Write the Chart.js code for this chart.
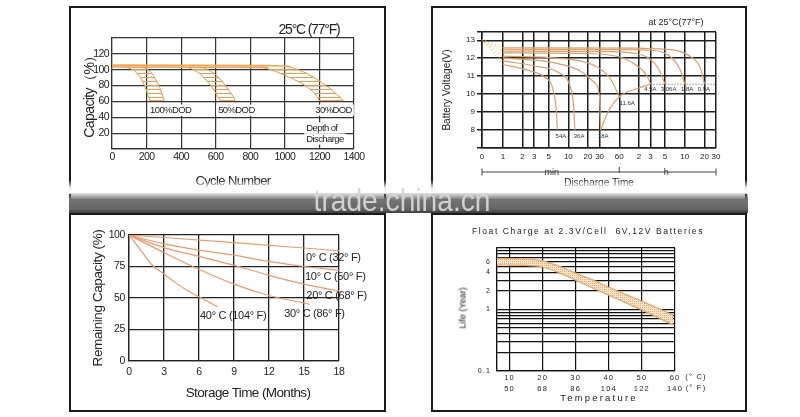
<!DOCTYPE html>
<html>
<head>
<meta charset="utf-8">
<title>Battery characteristics</title>
<script src="https://cdn.jsdelivr.net/npm/chart.js@4.4.1/dist/chart.umd.min.js"></script>
<style>
  html, body { margin: 0; padding: 0; background: #fff; }
  body { position: relative; width: 800px; height: 417px; overflow: hidden;
         font-family: "Liberation Sans", Arial, sans-serif; color: #222; }
  .panel { position: absolute; box-sizing: border-box; border: 2px solid #1b1b1b; }
  canvas { position: absolute; }
  .label { position: absolute; white-space: nowrap; transform: translate(-50%, -50%); line-height: 1; }
  #fade { position: absolute; left: 60px; top: 180px; width: 700px; height: 14px;
          background: linear-gradient(rgba(255,255,255,0), rgba(255,255,255,0.9) 55%, #fff); }
  #band { position: absolute; left: 69px; top: 193px; width: 679px; height: 20px;
          background: linear-gradient(rgba(120,120,120,0.2), #737373 35%, #666 80%, #3d3d3d); }
  #mark { position: absolute; left: 402px; top: 200px; transform: translate(-50%, -50%) scaleX(0.88);
          font-size: 32px; color: rgba(214,214,214,0.95); white-space: nowrap; line-height: 1; }
</style>
</head>
<body>
<div class="panel" style="left:69px;top:6px;width:317px;height:195px"></div>
<div class="panel" style="left:431px;top:6px;width:316px;height:195px"></div>
<div class="panel" style="left:69px;top:213px;width:317px;height:199px"></div>
<div class="panel" style="left:431px;top:213px;width:316px;height:199px"></div>

<canvas id="cycleChart" style="left:72px;top:9px" width="310" height="180"></canvas>
<canvas id="dischargeChart" style="left:434px;top:9px" width="310" height="180"></canvas>
<canvas id="storageChart" style="left:72px;top:215px" width="310" height="194"></canvas>
<canvas id="floatChart" style="left:434px;top:215px" width="310" height="194"></canvas>

<div class="label" style="left:309px;top:29px;font-size:14px;letter-spacing:-1.2px">25°C (77°F)</div>
<div class="label" style="left:676px;top:22px;font-size:9px">at 25°C(77°F)</div>
<div class="label" style="left:248px;top:393px;font-size:13.5px;letter-spacing:-0.6px">Storage Time (Months)</div>
<div class="label" style="left:588px;top:231px;font-size:8.5px;letter-spacing:1.6px">Float Charge at 2.3V/Cell&nbsp; 6V,12V Batteries</div>
<div class="label" style="left:463px;top:308px;font-size:9px;transform:translate(-50%,-50%) rotate(-90deg)">Life (Year)</div>
<div class="label" style="left:599px;top:398px;font-size:9.5px;letter-spacing:2.2px">Temperature</div>
<div class="label" style="left:696px;top:377px;font-size:7.5px;letter-spacing:1.2px">(° C)</div>
<div class="label" style="left:696px;top:388px;font-size:7.5px;letter-spacing:1.2px">(° F)</div>

<div id="fade"></div>
<div id="band"></div>
<div id="mark">trade.china.cn</div>

<script>
// ---- top left: cycle life ----
const cycleTicks = [0, 200, 400, 600, 800, 1000, 1200, 1400];
const capTicks = [0, 20, 40, 60, 80, 100, 120, 140];
const capLabels = ['', '20', '40', '60', '80', '100', '120', ''];

const bandTopCycles = [0, 500, 900, 1000, 1030];
const bandTopCap = [105.8, 105.7, 105.2, 104.6, 104];
const bandLowCycles = [0, 500, 850, 900];
const bandLowCap = [103.4, 103.2, 102.8, 102.5];

const dod100LeftCycles = [85, 130, 160, 185, 205, 218];
const dod100LeftCap = [103.3, 99, 92, 82, 70, 61];
const dod100RightCycles = [170, 200, 230, 255, 275, 292, 301];
const dod100RightCap = [103.3, 101.5, 96, 87, 78, 68, 61];

const dod50LeftCycles = [440, 471, 510, 548, 575, 596, 612, 625];
const dod50LeftCap = [103, 100, 95, 86, 79, 72, 66, 61];
const dod50RightCycles = [520, 558, 600, 635, 660, 683, 700, 712];
const dod50RightCap = [103, 100, 94, 86, 79, 72, 67, 61];

const dod30LeftCycles = [880, 934, 1000, 1050, 1089, 1130, 1166, 1190, 1200];
const dod30LeftCap = [102.5, 99, 93, 88, 84, 78, 72, 65, 61];
const dod30RightCycles = [1020, 1080, 1130, 1185, 1220, 1262, 1300, 1339];
const dod30RightCap = [104, 100, 95, 88, 83, 76, 69, 61];

const dodLabels = ['100%DOD', '50%DOD', '30%DOD', 'Depth of', 'Discharge'];
const dodLabelCycles = [220, 614, 1176, 1124, 1124];
const dodLabelCap = [49, 49, 49, 26.5, 12.6];

// ---- top right: discharge curves (time in minutes) ----
const timeTicks = [0.48, 1, 2, 3, 5, 10, 20, 30, 60, 120, 180, 300, 600, 1200, 1800];
const timeLabels = ['0', '1', '2', '3', '5', '10', '20', '30', '60', '2', '3', '5', '10', '20', '30'];
const voltTicks = [7, 8, 9, 10, 11, 12, 13, 13.46];
const voltLabels = ['', '8', '9', '10', '11', '12', '13', ''];

const tA09 = [1, 100, 300, 460, 740, 1040, 1200];
const vA09 = [12.58, 12.56, 12.5, 12.42, 12.08, 11.45, 10.55];
const tA18 = [1, 60, 160, 290, 410, 520, 600];
const vA18 = [12.5, 12.48, 12.45, 12.3, 11.9, 11.3, 10.55];
const tA306 = [1, 40, 100, 170, 240, 300];
const vA306 = [12.4, 12.37, 12.28, 12.0, 11.4, 10.55];
const tA45 = [1, 25, 70, 120, 160, 180];
const vA45 = [12.3, 12.25, 12.0, 11.5, 11.0, 10.55];
const tA116 = [1, 10, 28, 45, 60];
const vA116 = [12.12, 11.95, 11.5, 10.8, 9.85];
const tA180 = [1, 6, 15, 25, 30, 31];
const vA180 = [12.02, 11.75, 11.3, 10.65, 9.8, 8.0];
const tA360 = [1, 3.3, 7.5, 10.5, 12, 12.6];
const vA360 = [11.85, 11.55, 11.15, 10.5, 9.4, 8.0];
const tA540 = [1, 2.3, 4.3, 5.8, 6.5, 6.8];
const vA540 = [11.65, 11.35, 10.95, 10.3, 9.2, 8.0];

const startTime = [0.48, 1];
const startVolt = 13.05;

const endLineT = [31, 43, 62, 110, 180];
const endLineV = [8.0, 9.2, 9.9, 10.3, 10.55];
const cutLowT = [6.8, 31];
const cutLowV = [8.0, 8.0];
const cutHighT = [180, 1800];
const cutHighV = [10.55, 10.55];

const ampLabels = ['54A', '36A', '18A', '11.6A', '4.5A', '3.06A', '1.8A', '0.9A'];
const ampLabelT = [7.7, 14.6, 34, 79, 179, 340, 652, 1172];
const ampLabelV = [7.64, 7.64, 7.64, 9.46, 10.24, 10.24, 10.24, 10.24];

const spanLabels = ['min', 'h'];
const spanAt = [5.6, 314];
const spanBreak = 60;

// ---- bottom left: self discharge ----
const monthTicks = [0, 3, 6, 9, 12, 15, 18];
const remainTicks = [0, 25, 50, 75, 100];

const m0 = [0, 9, 18];
const r0 = [100, 94, 87.5];
const m10 = [0, 3, 6, 9, 12, 15, 18];
const r10 = [100, 93, 88, 84, 79, 75, 72];
const m20 = [0, 3, 6, 9, 12, 15, 18];
const r20 = [100, 90, 83, 76, 68, 61, 55.5];
const m30 = [0, 3, 5, 9, 12, 15.5];
const r30 = [100, 86, 77, 61, 52, 45];
const m40 = [0, 1, 2, 3, 4, 5, 6, 7.6];
const r40 = [100, 88, 76, 69, 62, 56, 51, 43];

const tempLabels = ['0° C (32° F)', '10° C (50° F)', '20° C (68° F)', '30° C (86° F)', '40° C (104° F)'];
const tempLabelMonth = [15.17, 15.09, 15.2, 13.3, 6.09];
const tempLabelCap = [81.5, 66.9, 51.8, 37.0, 36.0];

// ---- bottom right: float life ----
const degTicks = [6.2, 10, 20, 30, 40, 50, 60];
const degLabels = [['', ''], ['10', '50'], ['20', '68'], ['30', '86'], ['40', '104'], ['50', '122'], ['60', '140']];
const lifeTicks = [0.1, 0.2, 0.3, 0.4, 0.5, 0.6, 0.7, 0.8, 0.9, 1, 2, 3, 4, 5, 6, 7, 8, 9, 10];
const lifeLabels = ['0.1', '', '', '', '', '', '', '', '', '1', '2', '', '4', '', '6', '', '', '', ''];

const lifeTemp = [6.2, 13, 19.3, 25.3, 30, 35.3, 40, 45.4, 50.4, 59.5];
const lifeUpper = [6.8, 6.7, 6.3, 5.0, 3.9, 3.0, 2.3, 1.73, 1.34, 0.81];
const lifeLower = [5.3, 5.25, 5.0, 3.9, 3.0, 2.22, 1.7, 1.26, 0.96, 0.56];

// ---------------------------------------------------------------
Chart.defaults.font.family = '"Liberation Sans", Arial, sans-serif';
Chart.defaults.color = '#222';

const pts = (xs, ys) => xs.map((x, i) => ({ x, y: ys[i] }));

function makePattern(w, h, paint) {
  const c = document.createElement('canvas');
  c.width = w;
  c.height = h;
  const g = c.getContext('2d');
  paint(g);
  return g.createPattern(c, 'repeat');
}

const hatchFill = makePattern(4, 4, g => {
  g.fillStyle = '#ec9a48';
  g.fillRect(0, 0, 4, 1);
});
const dotFill = makePattern(2, 2, g => {
  g.fillStyle = '#fbe4cc';
  g.fillRect(0, 0, 2, 2);
  g.fillStyle = '#e3ae78';
  g.fillRect(0, 0, 1, 1);
});

// closed outline of a DOD region, left edge going down, right edge coming back up
function dodRegion(lx, ly, rx, ry) {
  return {
    data: [...pts(lx, ly), ...pts(rx, ry).reverse()],
    indexAxis: 'y',
    fill: 'shape',
    backgroundColor: hatchFill,
    borderColor: '#ea9848',
    borderWidth: 1
  };
}

function spacing(value) {
  return { id: 'spacing', beforeDraw(chart) { chart.ctx.letterSpacing = value; } };
}

function notes(texts, xs, ys, font, opts = {}) {
  return {
    id: 'notes',
    afterDatasetsDraw(chart) {
      const { ctx, scales } = chart;
      ctx.save();
      ctx.font = font;
      ctx.letterSpacing = opts.spacing || '0px';
      ctx.textAlign = opts.align || 'left';
      ctx.textBaseline = 'middle';
      texts.forEach((t, i) => {
        const px = scales.x.getPixelForValue(xs[i]);
        const py = scales.y.getPixelForValue(ys[i]);
        if (opts.background) {
          const w = ctx.measureText(t).width;
          const left = opts.align === 'center' ? px - w / 2 : px;
          ctx.fillStyle = opts.background;
          ctx.fillRect(left - 2, py - 5.6, w + 4, 11.2);
        }
        ctx.fillStyle = opts.color || '#222';
        ctx.fillText(t, px, py);
      });
      ctx.restore();
    }
  };
}

const timeSpan = {
  id: 'timeSpan',
  afterDraw(chart) {
    const { ctx, scales: { x }, chartArea } = chart;
    const y = chartArea.bottom + 24;
    const x0 = x.getPixelForValue(x.min);
    const x1 = x.getPixelForValue(x.max);
    const xm = x.getPixelForValue(spanBreak);
    ctx.save();
    ctx.strokeStyle = '#444';
    ctx.lineWidth = 1;
    ctx.beginPath();
    ctx.moveTo(x0, y); ctx.lineTo(x1, y);
    ctx.moveTo(x0, y - 3.5); ctx.lineTo(x0, y + 3.5);
    ctx.moveTo(x1, y - 3.5); ctx.lineTo(x1, y + 3.5);
    ctx.moveTo(xm, y - 5); ctx.lineTo(xm, y + 1);
    ctx.stroke();
    ctx.fillStyle = '#333';
    ctx.font = '9px "Liberation Sans", Arial';
    ctx.textAlign = 'center';
    ctx.textBaseline = 'middle';
    spanLabels.forEach((t, i) => ctx.fillText(t, x.getPixelForValue(spanAt[i]), y + 1));
    ctx.restore();
  }
};

const base = {
  responsive: false,
  animation: false,
  events: [],
  plugins: { legend: { display: false }, tooltip: { enabled: false } },
  elements: { point: { radius: 0 }, line: { borderWidth: 1.2, fill: false } }
};

const setTicks = values => s => { s.ticks = values.map(v => ({ value: v })); };

// top left
new Chart(document.getElementById('cycleChart'), {
  type: 'line',
  data: {
    datasets: [
      dodRegion(dod100LeftCycles, dod100LeftCap, dod100RightCycles, dod100RightCap),
      dodRegion(dod50LeftCycles, dod50LeftCap, dod50RightCycles, dod50RightCap),
      dodRegion(dod30LeftCycles, dod30LeftCap, dod30RightCycles, dod30RightCap),
      { data: pts(bandTopCycles, bandTopCap), borderColor: '#f0a659', borderWidth: 1.6 },
      { data: pts(bandLowCycles, bandLowCap), borderColor: '#f0a659', borderWidth: 1.6,
        fill: '-1', backgroundColor: 'rgba(246,190,130,0.55)' }
    ]
  },
  options: {
    ...base,
    layout: { padding: { top: 29, right: 28, left: 0, bottom: 0 } },
    scales: {
      x: {
        type: 'linear', min: 0, max: 1400,
        afterFit: s => { s.height = 40; },
        afterBuildTicks: setTicks(cycleTicks),
        grid: { color: '#333', lineWidth: 1.2, drawTicks: false },
        border: { color: '#333', width: 1.2 },
        ticks: { font: { size: 10.5 }, padding: 2, maxRotation: 0, autoSkip: false, callback: v => String(v) },
        title: { display: true, text: 'Cycle Number', font: { size: 13 }, padding: 0 }
      },
      y: {
        type: 'linear', min: 0, max: 140,
        afterFit: s => { s.width = 40; },
        afterBuildTicks: setTicks(capTicks),
        grid: { color: '#333', lineWidth: 1.2, drawTicks: false },
        border: { color: '#333', width: 1.2 },
        ticks: { font: { size: 10.5 }, padding: 3, autoSkip: false, callback: (v, i) => capLabels[i] },
        title: { display: true, text: 'Capacity（%）', font: { size: 14 }, padding: { top: 9.6, bottom: 0 } }
      }
    }
  },
  plugins: [spacing('-0.6px'),
    notes(dodLabels, dodLabelCycles, dodLabelCap, '9.5px "Liberation Sans", Arial', { spacing: '-0.6px', background: '#fff' })]
});

// top right
const curve = (t, v) => ({ data: pts(t, v), borderColor: '#dca06c', borderWidth: 1.2, cubicInterpolationMode: 'monotone' });
const startDots = v => ({ data: pts(startTime, [startVolt, v]), borderColor: '#e6b450', borderWidth: 1, borderDash: [1, 2.5] });
const cutLine = (t, v) => ({ data: pts(t, v), borderColor: '#555', borderWidth: 1, borderDash: [1, 2] });

new Chart(document.getElementById('dischargeChart'), {
  type: 'line',
  data: {
    datasets: [
      startDots(vA09[0]), startDots(vA306[0]), startDots(vA116[0]),
      startDots(vA360[0]), startDots(vA540[0]),
      cutLine(cutLowT, cutLowV), cutLine(cutHighT, cutHighV),
      curve(tA09, vA09), curve(tA18, vA18), curve(tA306, vA306), curve(tA45, vA45),
      curve(tA116, vA116), curve(tA180, vA180), curve(tA360, vA360), curve(tA540, vA540),
      curve(endLineT, endLineV)
    ]
  },
  options: {
    ...base,
    layout: { padding: { top: 23, right: 28, left: 0, bottom: 0 } },
    scales: {
      x: {
        type: 'logarithmic', min: 0.48, max: 1800,
        afterFit: s => { s.height = 41; },
        afterBuildTicks: setTicks(timeTicks),
        grid: { color: '#1e1e1e', lineWidth: 1.5, drawTicks: false },
        border: { color: '#1e1e1e', width: 1.5 },
        ticks: { font: { size: 8 }, padding: 4, maxRotation: 0, autoSkip: false, callback: (v, i) => timeLabels[i] },
        title: { display: true, text: 'Discharge Time', font: { size: 10 }, padding: 0 }
      },
      y: {
        type: 'linear', min: 7, max: 13.46,
        afterFit: s => { s.width = 48; },
        afterBuildTicks: setTicks(voltTicks),
        grid: { color: '#1e1e1e', lineWidth: 1.5, drawTicks: true, tickLength: 5 },
        border: { color: '#1e1e1e', width: 1.5 },
        ticks: { font: { size: 8 }, padding: 2, autoSkip: false, callback: (v, i) => voltLabels[i] },
        title: { display: true, text: 'Battery Voltage(V)', font: { size: 10 }, padding: { top: 7, bottom: 0 } }
      }
    }
  },
  plugins: [timeSpan,
    notes(ampLabels, ampLabelT, ampLabelV, '6px "Liberation Sans", Arial', { align: 'center', color: '#333' })]
});

// bottom left
const fade = (m, r) => ({ data: pts(m, r), borderColor: '#ec9a6e', borderWidth: 1.2, cubicInterpolationMode: 'monotone' });

new Chart(document.getElementById('storageChart'), {
  type: 'line',
  data: {
    datasets: [fade(m0, r0), fade(m10, r10), fade(m20, r20), fade(m30, r30), fade(m40, r40)]
  },
  options: {
    ...base,
    layout: { padding: { top: 20, right: 43, left: 0, bottom: 0 } },
    scales: {
      x: {
        type: 'linear', min: 0, max: 18,
        afterFit: s => { s.height = 48; },
        afterBuildTicks: setTicks(monthTicks),
        grid: { color: '#222', lineWidth: 1.3, drawTicks: false },
        border: { color: '#222', width: 1.3 },
        ticks: { font: { size: 10.5 }, padding: 5, maxRotation: 0, autoSkip: false }
      },
      y: {
        type: 'linear', min: 0, max: 100,
        afterFit: s => { s.width = 57; },
        afterBuildTicks: setTicks(remainTicks),
        grid: { color: '#222', lineWidth: 1.3, drawTicks: false },
        border: { color: '#222', width: 1.3 },
        ticks: { font: { size: 10.5 }, padding: 4, autoSkip: false },
        title: { display: true, text: 'Remaining Capacity (%)', font: { size: 13.5 }, padding: { top: 17.9, bottom: 0 } }
      }
    }
  },
  plugins: [spacing('-0.4px'),
    notes(tempLabels, tempLabelMonth, tempLabelCap, '11px "Liberation Sans", Arial', { spacing: '-0.3px' })]
});

// bottom right
new Chart(document.getElementById('floatChart'), {
  type: 'line',
  data: {
    datasets: [
      { data: pts(lifeTemp, lifeUpper), borderColor: '#e6a464', borderWidth: 1.2, cubicInterpolationMode: 'monotone' },
      { data: pts(lifeTemp, lifeLower), borderColor: '#e6a464', borderWidth: 1.2, cubicInterpolationMode: 'monotone',
        fill: '-1', backgroundColor: dotFill }
    ]
  },
  options: {
    ...base,
    layout: { padding: { top: 33, right: 69, left: 0, bottom: 0 } },
    scales: {
      x: {
        type: 'linear', min: 6.2, max: 60,
        afterFit: s => { s.height = 38; },
        afterBuildTicks: setTicks(degTicks),
        grid: { color: '#111', lineWidth: 1.2, drawTicks: false },
        border: { color: '#111', width: 1.2 },
        ticks: { font: { size: 7.5, lineHeight: 1.4 }, padding: 2, maxRotation: 0, autoSkip: false, callback: (v, i) => degLabels[i] }
      },
      y: {
        type: 'logarithmic', min: 0.1, max: 10,
        afterFit: s => { s.width = 63; },
        afterBuildTicks: setTicks(lifeTicks),
        grid: { color: '#111', lineWidth: 1.2, drawTicks: false },
        border: { color: '#111', width: 1.2 },
        ticks: { font: { size: 7 }, padding: 6, autoSkip: false, callback: (v, i) => lifeLabels[i] }
      }
    }
  },
  plugins: [spacing('1.2px')]
});
</script>
</body>
</html>
